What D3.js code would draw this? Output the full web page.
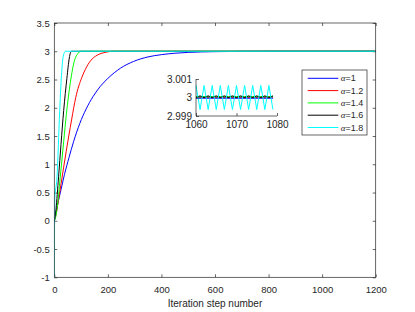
<!DOCTYPE html>
<html>
<head>
<meta charset="utf-8">
<script src="https://cdn.jsdelivr.net/npm/d3@7"></script>
<style>
  body { margin: 0; background: #fff; }
  text { font-family: "Liberation Sans", Arial, sans-serif; fill: #262626; }
</style>
</head>
<body>
<div id="chart"></div>
<script>
// data: [iteration step, value]
const alphaLabels = ["1", "1.2", "1.4", "1.6", "1.8"];
const seriesColors = ["#0000ff", "#ff0000", "#00ff00", "#000000", "#00ffff"];

const blueCurve = [[0, 0], [5, 0.12], [12, 0.28], [25, 0.55], [38, 0.82], [55, 1.12], [72, 1.4], [95, 1.72],
    [119, 1.98], [145, 2.2], [172, 2.38], [200, 2.52], [247, 2.7], [296, 2.82], [350, 2.9], [400, 2.94],
    [450, 2.965], [500, 2.98], [600, 2.993], [700, 2.998], [800, 3], [1200, 3]];
const redCurve = [[0, 0], [8, 0.15], [16, 0.38], [35, 0.95], [54, 1.5], [65, 1.8], [80, 2.18], [103, 2.54],
    [116, 2.68], [135, 2.83], [160, 2.93], [190, 2.98], [220, 3], [1200, 3]];
const greenCurve = [[0, 0], [5, 0.06], [10, 0.2], [22, 0.76], [35, 1.4], [45, 1.88], [60, 2.45],
    [75, 2.83], [85, 2.94], [100, 3], [1200, 3]];
const blackCurve = [[0, 0], [3, 0.08], [6, 0.2], [16, 0.78], [25, 1.35], [35, 1.95], [47, 2.52],
    [56, 2.88], [60, 2.97], [65, 3], [1200, 3]];
const cyanCurve = [[0, -1], [2, 0.4], [10, 0.76], [20, 1.93], [26, 2.51], [32, 2.87], [37, 2.97],
    [41, 3], [1200, 3]];

// zoomed inset, steps 1060..1079
const insetSteps = [1060, 1061, 1062, 1063, 1064, 1065, 1066, 1067, 1068, 1069,
    1070, 1071, 1072, 1073, 1074, 1075, 1076, 1077, 1078, 1079];
const blueInset = [2.99997, 2.99997, 2.99997, 2.99997, 2.99997, 2.99997, 2.99997, 2.99997, 2.99997, 2.99997,
    2.99997, 2.99997, 2.99997, 2.99997, 2.99997, 2.99997, 2.99997, 2.99997, 2.99997, 2.99997];
const redInset = [3.00002, 3.00002, 3.00002, 3.00002, 3.00002, 3.00002, 3.00002, 3.00002, 3.00002, 3.00002,
    3.00002, 3.00002, 3.00002, 3.00002, 3.00002, 3.00002, 3.00002, 3.00002, 3.00002, 3.00002];
const greenInset = [3.00005, 3.00005, 3.00005, 3.00005, 3.00005, 3.00005, 3.00005, 3.00005, 3.00005, 3.00005,
    3.00005, 3.00005, 3.00005, 3.00005, 3.00005, 3.00005, 3.00005, 3.00005, 3.00005, 3.00005];
const blackInset = [3.0, 3.00009, 3.0, 3.00009, 3.0, 3.00009, 3.0, 3.00009, 3.0, 3.00009,
    3.0, 3.00009, 3.0, 3.00009, 3.0, 3.00009, 3.0, 3.00009, 3.0, 3.00009];
const cyanInset = [3.00065, 2.99935, 3.00065, 2.99935, 3.00065, 2.99935, 3.00065, 2.99935, 3.00065, 2.99935,
    3.00065, 2.99935, 3.00065, 2.99935, 3.00065, 2.99935, 3.00065, 2.99935, 3.00065, 2.99935];

const xTicks = [0, 200, 400, 600, 800, 1000, 1200];
const yTicks = [-1, -0.5, 0, 0.5, 1, 1.5, 2, 2.5, 3, 3.5];
const insetXTicks = [1060, 1070, 1080];
const insetYTicks = [2.999, 3, 3.001];

// constants
const WIDTH = 415;
const HEIGHT = 312;
const AXIS_COLOR = "#262626";
const AXIS_WIDTH = 0.7;

const svg = d3.select("#chart").append("svg")
    .attr("width", WIDTH)
    .attr("height", HEIGHT);

const x = d3.scaleLinear([0, 1200], [54.3, 375.7]);
const y = d3.scaleLinear([-1, 3.5], [277.3, 23]);

svg.append("clipPath").attr("id", "plotClip")
    .append("rect")
    .attr("x", x(0)).attr("y", y(3.5))
    .attr("width", x(1200) - x(0)).attr("height", y(-1) - y(3.5));

function styleAxis(g, fontSize) {
    g.select(".domain").remove();
    g.selectAll(".tick line").attr("stroke", AXIS_COLOR).attr("stroke-width", AXIS_WIDTH);
    g.selectAll(".tick text").style("font-size", fontSize + "px").attr("fill", AXIS_COLOR);
}

// main axes
svg.append("g").attr("transform", `translate(0,${y(-1)})`)
    .call(d3.axisBottom(x).tickValues(xTicks).tickSize(-3).tickPadding(8.5).tickFormat(d => String(d)))
    .call(g => styleAxis(g, 9.5));
svg.append("g").attr("transform", `translate(0,${y(3.5)})`)
    .call(d3.axisTop(x).tickValues(xTicks).tickSize(-3).tickFormat(""))
    .call(g => styleAxis(g, 9.5));
svg.append("g").attr("transform", `translate(${x(0)},0)`)
    .call(d3.axisLeft(y).tickValues(yTicks).tickSize(-3).tickPadding(4.5).tickFormat(d => String(d)))
    .call(g => styleAxis(g, 9.5));
svg.append("g").attr("transform", `translate(${x(1200)},0)`)
    .call(d3.axisRight(y).tickValues(yTicks).tickSize(-3).tickFormat(""))
    .call(g => styleAxis(g, 9.5));

const line = d3.line()
    .x(d => x(d[0]))
    .y(d => y(d[1]))
    .curve(d3.curveMonotoneX);

const curves = [blueCurve, redCurve, greenCurve, blackCurve, cyanCurve];
svg.append("g").attr("clip-path", "url(#plotClip)")
    .selectAll("path")
    .data(curves)
    .join("path")
    .attr("d", line)
    .attr("fill", "none")
    .attr("stroke", (d, i) => seriesColors[i])
    .attr("stroke-width", 1);

svg.append("rect")
    .attr("x", x(0)).attr("y", y(3.5))
    .attr("width", x(1200) - x(0)).attr("height", y(-1) - y(3.5))
    .attr("fill", "none")
    .attr("stroke", AXIS_COLOR)
    .attr("stroke-width", AXIS_WIDTH);

svg.append("text")
    .attr("x", (x(0) + x(1200)) / 2)
    .attr("y", 307)
    .attr("text-anchor", "middle")
    .style("font-size", "10px")
    .text("Iteration step number");

// inset
const xi = d3.scaleLinear([1060, 1080], [196, 277]);
const yi = d3.scaleLinear([2.999, 3.001], [116, 79]);

const inset = svg.append("g");
inset.append("rect")
    .attr("x", xi(1060)).attr("y", yi(3.001))
    .attr("width", xi(1080) - xi(1060)).attr("height", yi(2.999) - yi(3.001))
    .attr("fill", "#fff");

const insetLine = d3.line()
    .x((d, i) => xi(insetSteps[i]))
    .y(d => yi(d));

const insetSeries = [blueInset, redInset, greenInset, blackInset, cyanInset];
inset.selectAll("path.insetLine")
    .data(insetSeries)
    .join("path")
    .attr("class", "insetLine")
    .attr("d", insetLine)
    .attr("fill", "none")
    .attr("stroke", (d, i) => seriesColors[i])
    .attr("stroke-width", (d, i) => i === 0 ? 1.6 : 1);

inset.append("g").attr("transform", `translate(0,${yi(2.999)})`)
    .call(d3.axisBottom(xi).tickValues(insetXTicks).tickSize(-3).tickPadding(5).tickFormat(d => String(d)))
    .call(g => styleAxis(g, 10));
inset.append("g").attr("transform", `translate(${xi(1060)},0)`)
    .call(d3.axisLeft(yi).tickValues(insetYTicks).tickSize(-3).tickPadding(4).tickFormat(d => String(d)))
    .call(g => styleAxis(g, 10));
inset.append("line")
    .attr("x1", xi(1060)).attr("x2", xi(1080))
    .attr("y1", yi(2.999)).attr("y2", yi(2.999))
    .attr("stroke", AXIS_COLOR).attr("stroke-width", AXIS_WIDTH);
inset.append("line")
    .attr("x1", xi(1060)).attr("x2", xi(1060))
    .attr("y1", yi(2.999)).attr("y2", yi(3.001))
    .attr("stroke", AXIS_COLOR).attr("stroke-width", AXIS_WIDTH);

// legend
const legend = svg.append("g").attr("transform", "translate(302,70)");
legend.append("rect")
    .attr("width", 65).attr("height", 65)
    .attr("fill", "#fff")
    .attr("stroke", AXIS_COLOR)
    .attr("stroke-width", AXIS_WIDTH);

const entry = legend.selectAll("g.entry")
    .data(alphaLabels)
    .join("g")
    .attr("class", "entry")
    .attr("transform", (d, i) => `translate(0,${8.3 + i * 12.3})`);
entry.append("line")
    .attr("x1", 5.7).attr("x2", 36.3)
    .attr("stroke", (d, i) => seriesColors[i])
    .attr("stroke-width", 1);
const label = entry.append("text")
    .attr("x", 38.7)
    .attr("dy", "0.35em")
    .style("font-size", "9px");
label.append("tspan")
    .style("font-family", "'Liberation Serif', serif")
    .style("font-style", "italic")
    .text("α");
label.append("tspan").text(d => "=" + d);
</script>
</body>
</html>
